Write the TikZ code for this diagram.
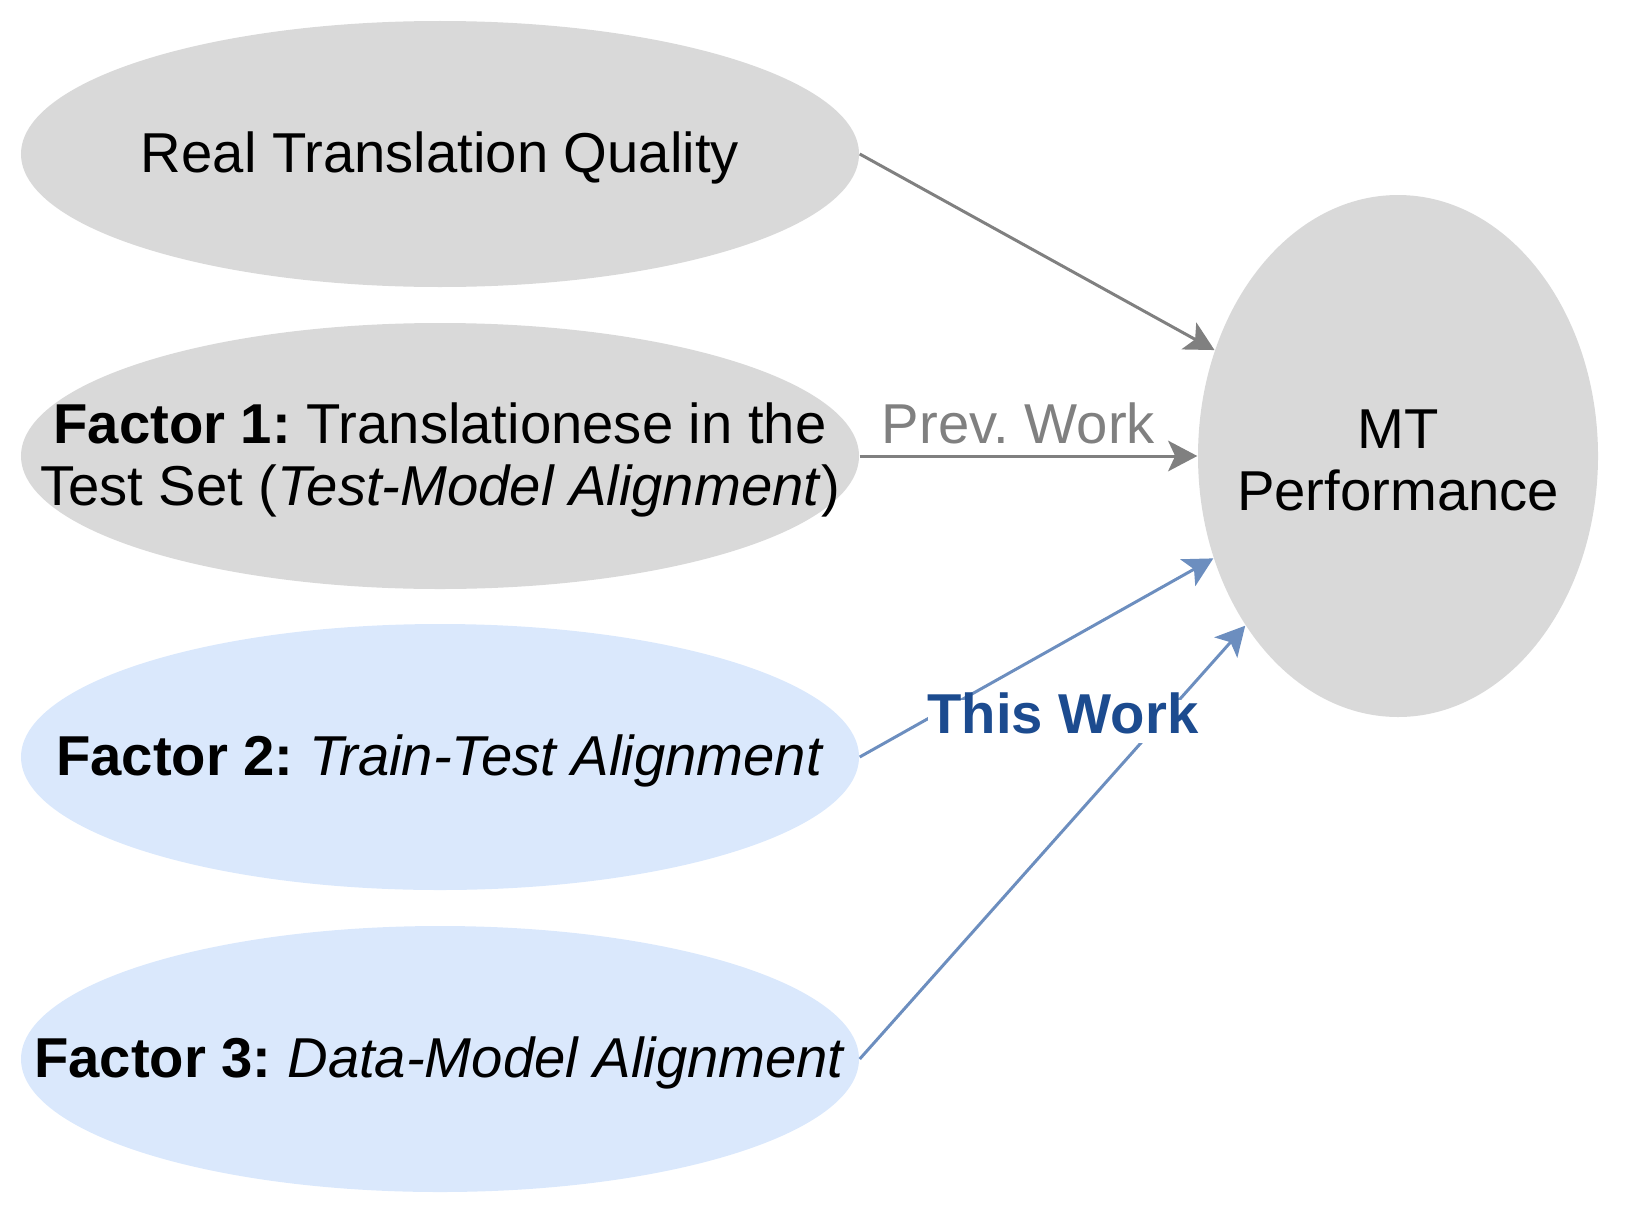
\documentclass[tikz,border=0pt]{standalone}
\usepackage{fontspec}
\setmainfont{Liberation Sans}
\frenchspacing
\usetikzlibrary{arrows.meta,shapes.geometric}
\definecolor{boxgray}{HTML}{D9D9D9}
\definecolor{boxblue}{HTML}{DAE8FC}
\definecolor{arrgray}{HTML}{808080}
\definecolor{arrblue}{HTML}{6C8EBF}
\definecolor{workblue}{HTML}{1C4B8F}

\begin{document}
\begin{tikzpicture}[
  factor/.style={ellipse, draw=none, minimum width=8.38cm, minimum height=2.66cm, inner sep=0pt},
  txt/.style={align=center, inner sep=0pt, yshift=-0.04cm},
  grayarr/.style={->, draw=arrgray, line width=0.85pt},
  bluearr/.style={->, draw=arrblue, line width=0.85pt},
  >={Stealth[length=8.3pt,width=8.7pt,inset=2pt]},
  font=\fontsize{16}{17.6}\selectfont]
\useasboundingbox (0,0) rectangle (16.26,12.14);

\node[factor, fill=boxgray] (A) at (4.40,10.60) {};
\node[factor, fill=boxgray] (B) at (4.40,7.58) {};
\node[factor, fill=boxblue] (C) at (4.40,4.57) {};
\node[factor, fill=boxblue] (D) at (4.40,1.55) {};
\node[ellipse, fill=boxgray, minimum width=4.0cm, minimum height=5.22cm, inner sep=0pt] (E) at (13.98,7.58) {};

\node[txt] (At) at (A) {Real Translation Quality};
\node[txt] (Bt) at (B) {\textbf{Factor 1:} Translationese in the\\Test Set (\textit{Test-Model Alignment})};
\node[txt] (Ct) at (C) {\textbf{Factor 2:} \textit{Train-Test Alignment}};
\node[txt] (Dt) at (D) {\textbf{Factor 3:} \textit{Data-Model Alignment}};
\node[txt] (Et) at (E) {MT\\Performance};

\draw[grayarr] (A.east) -- (E.150);
\draw[grayarr] (B.east) -- node[pos=0.47, above, inner sep=3pt, text=arrgray] (P) {Prev. Work} (E.west);
\draw[bluearr] (C.east) -- (E.209);
\draw[bluearr] (D.east) -- (E.228);

\node[fill=white, inner sep=0pt, text height=0.94em, text depth=0.28em, text=workblue, font=\fontsize{16}{17.6}\selectfont\bfseries] (W) at (10.63,4.925) {This Work};
\end{tikzpicture}
\end{document}
